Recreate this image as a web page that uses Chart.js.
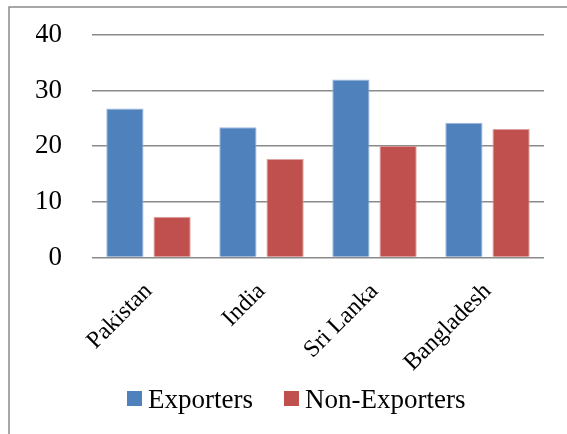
<!DOCTYPE html>
<html>
<head>
<meta charset="utf-8">
<script src="https://cdn.jsdelivr.net/npm/chart.js@4/dist/chart.umd.min.js"></script>
<style>
  html, body { margin: 0; padding: 0; background: #ffffff; }
  #wrap { width: 567px; height: 434px; }
</style>
</head>
<body>
<div id="wrap"><canvas id="chart" width="567" height="434"></canvas></div>
<script>
// Survey shares by country, split by exporting status
const categories = ['Pakistan', 'India', 'Sri Lanka', 'Bangladesh'];
const exporters = [26.8, 23.4, 32.0, 24.2];
const nonExporters = [7.3, 17.7, 20.1, 23.1];
const yTicks = [0, 10, 20, 30, 40];

const serif = '"Liberation Serif", "Times New Roman", serif';
const fontSize = 27;
const categoryFontSize = 24;

// Thin frame along the top and left edges of the figure
const framePlugin = {
  id: 'frame',
  beforeDraw(chart) {
    const ctx = chart.ctx;
    ctx.save();
    ctx.fillStyle = '#ffffff';
    ctx.fillRect(0, 0, chart.width, chart.height);
    ctx.strokeStyle = '#8a8a8a';
    ctx.lineWidth = 1.5;
    ctx.beginPath();
    ctx.moveTo(9, chart.height);
    ctx.lineTo(9, 7);
    ctx.lineTo(chart.width, 7);
    ctx.stroke();
    ctx.restore();
  }
};

// Compact legend row under the axis: square swatch, short gap, label
const legendRowPlugin = {
  id: 'legendRow',
  afterDraw(chart) {
    const ctx = chart.ctx;
    const box = 15, gap = 6, itemGap = 31;
    const baseline = 408, boxTop = 391, centerX = 296;
    ctx.save();
    ctx.font = fontSize + 'px ' + serif;
    const items = chart.data.datasets.map(ds => ({
      text: ds.label,
      color: ds.backgroundColor,
      w: ctx.measureText(ds.label).width
    }));
    let total = 0;
    items.forEach((it, i) => { total += box + gap + it.w + (i ? itemGap : 0); });
    let x = Math.round(centerX - total / 2);
    ctx.textBaseline = 'alphabetic';
    ctx.textAlign = 'left';
    items.forEach((it, i) => {
      if (i) x += itemGap;
      ctx.fillStyle = it.color;
      ctx.fillRect(x, boxTop, box, box);
      x += box + gap;
      ctx.fillStyle = '#000000';
      ctx.fillText(it.text, x, baseline);
      x += it.w;
    });
    ctx.restore();
  }
};

new Chart(document.getElementById('chart'), {
  type: 'bar',
  data: {
    labels: categories,
    datasets: [
      {
        label: 'Exporters',
        data: exporters,
        backgroundColor: '#4F81BD',
        borderColor: '#9fb9dd',
        borderWidth: 1
      },
      {
        label: 'Non-Exporters',
        data: nonExporters,
        backgroundColor: '#C0504D',
        borderColor: '#dda3a1',
        borderWidth: 1
      }
    ]
  },
  options: {
    responsive: false,
    devicePixelRatio: 1,
    animation: false,
    datasets: {
      bar: { categoryPercentage: 0.835, barPercentage: 0.79 }
    },
    layout: { padding: { left: 36, right: 23, top: 35, bottom: 45 } },
    plugins: {
      legend: { display: false },
      tooltip: { enabled: false }
    },
    scales: {
      x: {
        grid: { display: false },
        border: { display: false },
        ticks: {
          color: '#000000',
          font: { family: serif, size: categoryFontSize },
          minRotation: 45,
          maxRotation: 45,
          padding: 12
        },
        afterFit(scale) {
          scale.paddingLeft = 0;
          scale.paddingRight = 0;
        }
      },
      y: {
        min: 0,
        max: 40,
        afterBuildTicks(scale) {
          scale.ticks = yTicks.map(v => ({ value: v }));
        },
        grid: { color: '#8a8a8a', lineWidth: 1.5, drawTicks: false },
        border: { display: false },
        ticks: {
          color: '#000000',
          font: { family: serif, size: fontSize },
          padding: 30
        },
        afterFit(scale) {
          scale.width = 56;
          scale.paddingTop = 0;
          scale.paddingBottom = 0;
        }
      }
    }
  },
  plugins: [framePlugin, legendRowPlugin]
});
</script>
</body>
</html>
